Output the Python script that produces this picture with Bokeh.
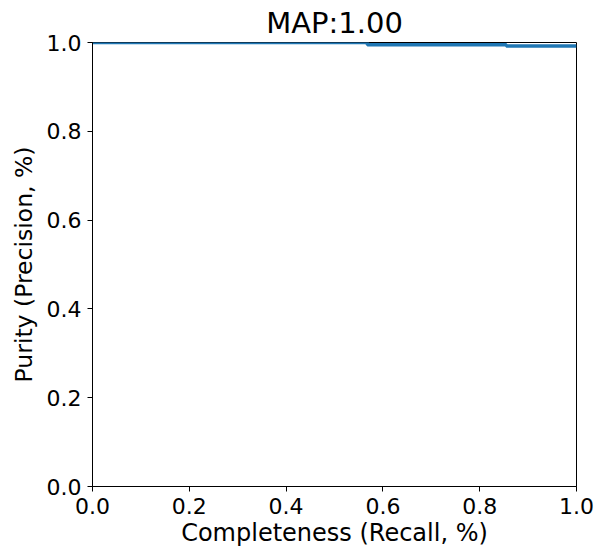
from bokeh.plotting import figure
from bokeh.models import FixedTicker, NumeralTickFormatter, Range1d
from bokeh.embed import file_html
from bokeh.resources import INLINE

recall = [0.0, 0.568, 0.568, 0.855, 0.855, 1.0]
precision = [1.0, 1.0, 0.995, 0.995, 0.992, 0.992]
ticks = [0.0, 0.2, 0.4, 0.6, 0.8, 1.0]

FONT = "DejaVu Sans"

p = figure(width=599, height=550, output_backend="svg", toolbar_location=None,
           x_range=Range1d(0, 1), y_range=Range1d(0, 1),
           min_border_left=92, min_border_right=23, min_border_top=42, min_border_bottom=64)
p.title.text = "MAP:1.00"
p.title.align = "center"
p.title.text_font = FONT
p.title.text_font_size = "29px"
p.title.text_font_style = "normal"
p.title.text_color = "black"
p.title.standoff = 6

p.line(recall, precision, line_color="#1f77b4", line_width=3.5)

for ax in (p.xaxis[0], p.yaxis[0]):
    ax.ticker = FixedTicker(ticks=ticks)
    ax.formatter = NumeralTickFormatter(format="0.0")
    ax.major_label_text_font = FONT
    ax.major_label_text_font_size = "22px"
    ax.major_label_text_color = "black"
    ax.axis_label_text_font = FONT
    ax.axis_label_text_font_style = "normal"
    ax.axis_label_text_color = "black"
    ax.axis_line_color = "black"
    ax.major_tick_line_color = "black"
    ax.major_tick_out = 5
    ax.major_tick_in = 0
    ax.minor_tick_line_color = None
    ax.major_label_standoff = 6

p.xaxis.axis_label_text_font_size = "24px"
p.yaxis.axis_label_text_font_size = "23.5px"
p.xaxis.axis_label_standoff = 2
p.yaxis.axis_label_standoff = 6
p.xaxis.axis_label = "Completeness (Recall, %)"
p.yaxis.axis_label = "Purity (Precision, %)"
p.xgrid.grid_line_color = None
p.ygrid.grid_line_color = None
p.outline_line_color = "black"
p.outline_line_alpha = 1.0
p.outline_line_width = 1

open("out.html", "w").write(file_html(p, INLINE))
